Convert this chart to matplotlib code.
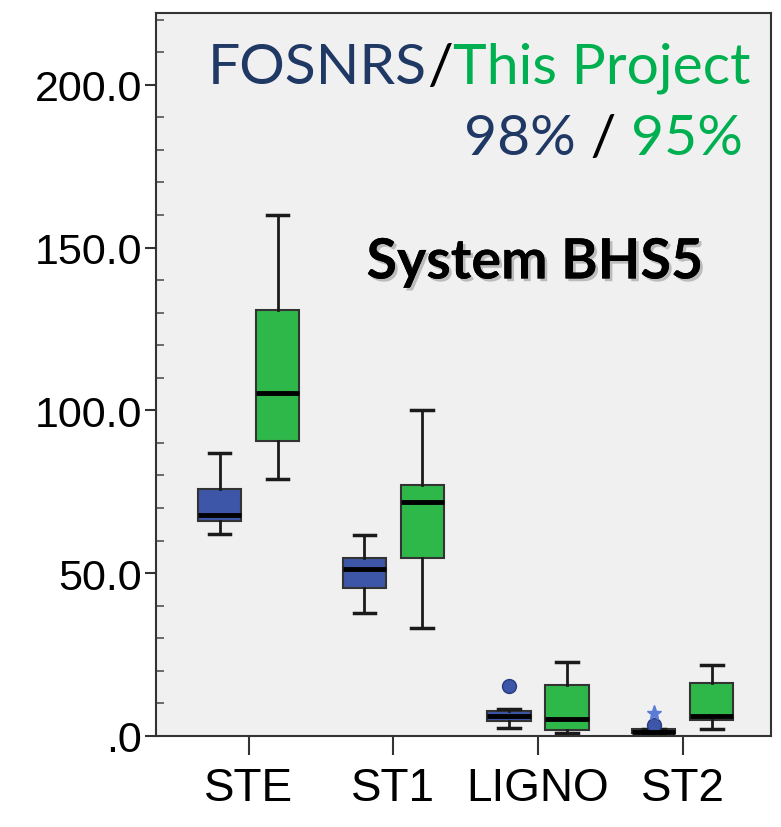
import matplotlib
matplotlib.use("Agg")
import matplotlib.pyplot as plt
import matplotlib.patheffects as pe
from matplotlib.ticker import MultipleLocator

categories = ["STE", "ST1", "LIGNO", "ST2"]

# FOSNRS (blue) box stats: whislo, q1, med, q3, whishi
fos_whislo = [62.0, 37.8, 2.5, 0.9]
fos_q1 = [66.0, 45.5, 4.6, 0.9]
fos_med = [67.8, 51.3, 6.1, 1.3]
fos_q3 = [75.9, 54.7, 7.7, 2.0]
fos_whishi = [87.0, 61.8, 8.3, 2.0]
fos_outliers = [[], [], [15.4], [3.4]]
fos_extremes = [[], [], [], [7.1]]

# This Project (green) box stats
prj_whislo = [79.0, 33.2, 0.9, 2.1]
prj_q1 = [90.6, 54.7, 1.8, 4.9]
prj_med = [105.4, 71.9, 5.2, 6.1]
prj_q3 = [130.9, 77.1, 15.7, 16.2]
prj_whishi = [160.1, 100.1, 22.7, 21.8]

blue = "#3D56A8"
green = "#2FB84A"
navy = "#1F3864"
txtgreen = "#00B050"


def make_stats(lo, q1, med, q3, hi, fl):
    return [dict(whislo=a, q1=b, med=c, q3=d, whishi=e, fliers=f)
            for a, b, c, d, e, f in zip(lo, q1, med, q3, hi, fl)]


fig = plt.figure(figsize=(7.81, 8.28), dpi=100)
ax = fig.add_axes([0.1997, 0.110, 0.7875, 0.873])
ax.set_facecolor("#F0F0F0")

pos = list(range(1, len(categories) + 1))
off = 0.2
w = 0.3

common = dict(widths=w, patch_artist=True, showfliers=True,
              medianprops=dict(color="black", linewidth=3.5),
              whiskerprops=dict(color="#1a1a1a", linewidth=2),
              capprops=dict(color="#1a1a1a", linewidth=2.5),
              flierprops=dict(marker="o", markerfacecolor=blue, markeredgecolor="#2a3a80",
                              markersize=10, linestyle="none"))

b1 = ax.bxp(make_stats(fos_whislo, fos_q1, fos_med, fos_q3, fos_whishi, fos_outliers),
            positions=[p - off for p in pos], **common)
b2 = ax.bxp(make_stats(prj_whislo, prj_q1, prj_med, prj_q3, prj_whishi, [[] for _ in pos]),
            positions=[p + off for p in pos], **common)
for b in b1["boxes"]:
    b.set_facecolor(blue)
    b.set_edgecolor("#333333")
    b.set_linewidth(1.5)
for b in b2["boxes"]:
    b.set_facecolor(green)
    b.set_edgecolor("#333333")
    b.set_linewidth(1.5)

# extreme values (asterisk)
for p, ext in zip(pos, fos_extremes):
    if ext:
        ax.plot([p - off] * len(ext), ext, linestyle="none", marker="*",
                color="#5B7BD5", markersize=11)

ax.set_xlim(0.36, 4.61)
ax.set_ylim(0, 222)
ax.set_xticks(pos)
ax.set_xticklabels(categories)
ax.set_yticks([0, 50, 100, 150, 200])
ax.set_yticklabels([".0", "50.0", "100.0", "150.0", "200.0"])
ax.yaxis.set_minor_locator(MultipleLocator(10))

for lab in ax.get_xticklabels() + ax.get_yticklabels():
    lab.set_fontfamily("Liberation Sans")
ax.tick_params(axis="y", which="major", direction="out", length=8, width=1.5,
               labelsize=31, pad=2, color="#333333")
ax.tick_params(axis="y", which="minor", direction="in", length=6, width=1.2, color="#555555")
ax.tick_params(axis="x", direction="out", length=14, width=1.5, labelsize=33, pad=8,
               color="#333333")
for s in ax.spines.values():
    s.set_color("#333333")
    s.set_linewidth(1.5)

font = "Lato"
fs = 41
y1 = 0.960
y2 = 0.862
fig.canvas.draw()
r = fig.canvas.get_renderer()

# first line, built piecewise from the right
t3 = ax.text(0.966, y1, "This Project", transform=ax.transAxes, ha="right", va="top",
             fontsize=fs, family=font, color=txtgreen)
bb = t3.get_window_extent(r).transformed(ax.transAxes.inverted())
t2 = ax.text(bb.x0, y1, "/", transform=ax.transAxes, ha="right", va="top",
             fontsize=fs, family=font, color="black")
bb2 = t2.get_window_extent(r).transformed(ax.transAxes.inverted())
ax.text(bb2.x0, y1, "FOSNRS", transform=ax.transAxes, ha="right", va="top",
        fontsize=fs, family=font, color=navy)

# second line
u3 = ax.text(0.954, y2, "95%", transform=ax.transAxes, ha="right", va="top",
             fontsize=fs, family=font, color=txtgreen)
bu = u3.get_window_extent(r).transformed(ax.transAxes.inverted())
u2 = ax.text(bu.x0, y2, " / ", transform=ax.transAxes, ha="right", va="top",
             fontsize=fs, family=font, color="black")
bu2 = u2.get_window_extent(r).transformed(ax.transAxes.inverted())
ax.text(bu2.x0, y2, "98%", transform=ax.transAxes, ha="right", va="top",
        fontsize=fs, family=font, color=navy)

ax.text(0.616, 0.655, "System BHS5", transform=ax.transAxes, ha="center", va="center",
        fontsize=40, family=font, fontweight="bold", color="black",
        path_effects=[pe.withSimplePatchShadow(offset=(2, -2), shadow_rgbFace="#888888", alpha=0.5),
                      pe.Normal()])

fig.savefig("out.png", dpi=100)
